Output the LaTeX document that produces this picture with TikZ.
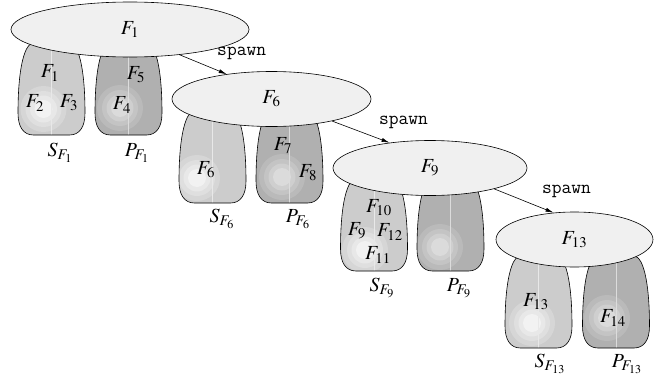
\documentclass[tikz,border=0pt]{standalone}
\usepackage{mathptmx}
\usepackage[no-math]{fontspec}
\setmainfont{Liberation Serif}
\usetikzlibrary{shapes.geometric, arrows.meta, positioning, calc}
\definecolor{ellfill}{gray}{0.94}
\definecolor{sbag}{gray}{0.80}
\definecolor{pbag}{gray}{0.69}
% rings of the glow, outermost first
\definecolor{sra}{gray}{0.84}
\definecolor{srb}{gray}{0.875}
\definecolor{src}{gray}{0.91}
\definecolor{srd}{gray}{0.95}
\definecolor{pra}{gray}{0.73}
\definecolor{prb}{gray}{0.77}
\definecolor{prc}{gray}{0.81}
\definecolor{prd}{gray}{0.86}
\tikzset{
  group/.style={
    ellipse, draw=black, line width=0.6pt,
    fill=ellfill,
    minimum width=#1, minimum height=55pt,
    inner sep=0pt,
    font=\fontsize{20}{22}\selectfont
  },
  group/.default=200pt,
  lbl/.style={
    inner sep=0pt,
    font=\fontsize{20}{22}\selectfont
  },
  spawnlbl/.style={
    inner sep=0pt,
    font=\ttfamily\fontsize{19}{21}\selectfont
  },
  arrow/.style={
    -{Latex[length=8pt, width=4pt]},
    line width=0.6pt
  }
}
% outline of a bag, bottom centre at the origin
\newcommand{\bagpath}{(-18,0) .. controls (-28,0) and (-33.5,-8) .. (-33.5,-22)
  .. controls (-33.5,-50) and (-31,-74) .. (-25,-86)
  .. controls (-22,-92) and (-18,-93) .. (-12,-93) -- (12,-93)
  .. controls (18,-93) and (22,-92) .. (25,-86)
  .. controls (31,-74) and (33.5,-50) .. (33.5,-22)
  .. controls (33.5,-8) and (28,0) .. (18,0) -- cycle}
% #1 bottom centre, #2 fill, #3 ring prefix (s/p), #4 glow centre
\newcommand{\bag}[4]{%
  \begin{scope}[shift={#1}]
    \fill[#2] \bagpath;
    \begin{scope}
      \clip \bagpath;
      \foreach \rr/\cc in {23/#3ra, 18/#3rb, 13.5/#3rc, 9/#3rd}
        \fill[\cc] #4 circle (\rr);
      \draw[white!55!#2, line width=0.5pt] (0,0) -- (0,-93);
    \end{scope}
    \draw[black, line width=0.6pt] \bagpath;
  \end{scope}}

\begin{document}
\begin{tikzpicture}[x=1pt, y=-1pt]
\useasboundingbox (0,0) rectangle (665,383);

%------------------------------------------------------
% GROUP F1
%------------------------------------------------------
\bag{(51.5,135)}{sbag}{s}{(-8,-26)}
\bag{(128.5,135)}{pbag}{p}{(-8.5,-27)}
\node[group=238pt] (e1) at (130,29.5) {$F_1$};
\node[lbl] (s1a) at (50,73) {$F_1$};
\node[lbl] (s1b) at (35,103) {$F_2$};
\node[lbl] (s1c) at (69,103) {$F_3$};
\node[lbl] (p1a) at (136,75) {$F_5$};
\node[lbl] (p1b) at (122,105) {$F_4$};
\node[lbl] (s1) at (60,153) {$S_{F_1}$};
\node[lbl] (p1) at (137,153) {$P_{F_1}$};

%------------------------------------------------------
% GROUP F6
%------------------------------------------------------
\bag{(212.5,203)}{sbag}{s}{(-15.5,-25)}
\bag{(289.5,203)}{pbag}{p}{(-7.5,-26)}
\node[group=199pt] (e2) at (271.5,99) {$F_6$};
\node[lbl] (s2a) at (206,170) {$F_6$};
\node[lbl] (p2a) at (283,146) {$F_7$};
\node[lbl] (p2b) at (308,173) {$F_8$};
\node[lbl] (s2) at (222,219) {$S_{F_6}$};
\node[lbl] (p2) at (298,219) {$P_{F_6}$};

%------------------------------------------------------
% GROUP F9
%------------------------------------------------------
\bag{(374,271)}{sbag}{s}{(-9,-21)}
\bag{(450.5,271)}{pbag}{p}{(-10.5,-24)}
\node[group=194pt] (e3) at (430,168) {$F_9$};
\node[lbl] (s3a) at (379,208) {$F_{10}$};
\node[lbl] (s3b) at (357,231) {$F_9$};
\node[lbl] (s3c) at (390,232) {$F_{12}$};
\node[lbl] (s3d) at (378,255) {$F_{11}$};
\node[lbl] (s3) at (382,288) {$S_{F_9}$};
\node[lbl] (p3) at (459,288) {$P_{F_9}$};

%------------------------------------------------------
% GROUP F13
%------------------------------------------------------
\bag{(538.5,348)}{sbag}{s}{(-6.5,-25)}
\bag{(616,348)}{pbag}{p}{(-9,-30)}
\node[group=157pt] (e4) at (574.5,239.5) {$F_{13}$};
\node[lbl] (s4a) at (536,302) {$F_{13}$};
\node[lbl] (p4a) at (613,318) {$F_{14}$};
\node[lbl] (s4) at (550,364) {$S_{F_{13}}$};
\node[lbl] (p4) at (627,364) {$P_{F_{13}}$};

%------------------------------------------------------
% SPAWN EDGES
%------------------------------------------------------
\draw[arrow] (e1.-27) -- (e2.151)
  node[spawnlbl, pos=1, xshift=15pt, yshift=21pt] (sp1) {spawn};
\draw[arrow] (e2.-20) -- (e3.148)
  node[spawnlbl, pos=1, xshift=14pt, yshift=20pt] (sp2) {spawn};
\draw[arrow] (e3.-18) -- (e4.128)
  node[spawnlbl, pos=1, xshift=13pt, yshift=21pt] (sp3) {spawn};

\end{tikzpicture}
\end{document}
